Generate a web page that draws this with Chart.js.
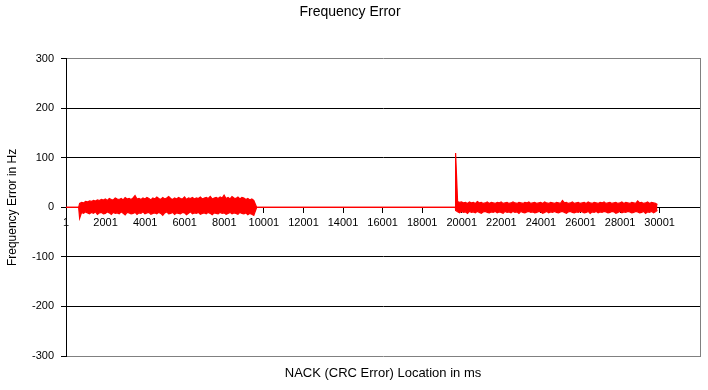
<!DOCTYPE html>
<html>
<head>
<meta charset="utf-8">
<script src="https://cdn.jsdelivr.net/npm/chart.js@4.4.1/dist/chart.umd.min.js"></script>
<style>
html,body{margin:0;padding:0;background:#fff;}
#wrap{width:708px;height:390px;position:relative;}
</style>
</head>
<body>
<div id="wrap"><canvas id="c"></canvas></div>
<script>
// ---- data ----
const chartTitle = 'Frequency Error';
const xTitle = 'NACK (CRC Error) Location in ms';
const yTitle = 'Frequency Error in Hz';
const xTickValues = [1,2001,4001,6001,8001,10001,12001,14001,16001,18001,20001,22001,24001,26001,28001,30001];
const yTickValues = [-300,-200,-100,0,100,200,300];
const xMin = 1, xMax = 32040;
const sampleStep = 100;          // ms between envelope samples (upper/lower extent of the dense trace)
// zero-valued stretches (start,end in ms)
const zeroStretches = [[1,640],[9640,19680]];
// segment 1: burst from 690 ms
const seg1Start = 690;
const seg1Hi = [8,10,9,12,11,13,12,14,13,15,
14,16,15,17,14,18,16,15,19,17,
16,18,15,20,17,18,16,19,24,17,
18,16,19,17,20,18,15,19,17,21,
18,16,20,17,19,22,18,16,19,17,
20,18,17,21,16,19,18,20,17,19,
18,21,17,19,20,18,22,17,19,20,
18,21,19,25,18,20,17,22,19,18,
21,17,20,19,16,18,15,17,14];
const seg1Lo = [-22,-10,-12,-9,-11,-13,-10,-12,-9,-14,
-11,-10,-13,-12,-9,-11,-14,-10,-12,-11,
-13,-9,-12,-15,-10,-11,-13,-12,-10,-14,
-11,-12,-9,-13,-11,-10,-14,-12,-11,-13,
-10,-12,-16,-11,-9,-13,-12,-10,-14,-11,
-12,-13,-10,-11,-15,-12,-9,-13,-11,-12,
-10,-14,-12,-11,-13,-10,-12,-15,-11,-12,
-13,-10,-12,-11,-14,-12,-10,-13,-11,-12,
-14,-10,-12,-13,-11,-15,-12,-14,-16];
// segment 2: burst from 19690 ms
const seg2Start = 19690;
const seg2Hi = [110,12,10,11,9,10,8,11,9,10,
8,12,9,10,8,9,11,8,10,9,
8,10,9,11,8,9,10,8,9,11,
9,8,10,9,8,10,9,11,8,9,
10,8,9,10,8,11,9,8,10,9,
8,10,9,8,14,9,10,8,9,11,
8,9,10,8,9,10,8,11,9,8,
10,9,8,10,9,11,8,9,10,8,
9,10,8,9,11,8,10,9,8,10,
9,8,13,9,10,8,9,11,8,10,
9,8,6];
const seg2Lo = [-6,-9,-11,-8,-10,-9,-12,-8,-10,-9,
-11,-8,-10,-12,-9,-8,-10,-11,-9,-10,
-8,-11,-9,-10,-12,-8,-10,-9,-11,-8,
-10,-9,-12,-8,-10,-11,-9,-8,-10,-9,
-11,-10,-8,-9,-12,-10,-8,-11,-9,-10,
-8,-10,-11,-9,-8,-10,-12,-9,-8,-10,
-11,-9,-10,-8,-9,-11,-10,-8,-12,-9,
-10,-8,-11,-9,-10,-8,-9,-11,-10,-8,
-9,-12,-10,-8,-11,-9,-10,-8,-9,-11,
-10,-8,-9,-11,-10,-8,-12,-9,-10,-8,
-11,-9,-6];

// ---- build the envelope tables ----
function envelope(which){
  const pts = [];
  const add = (start, arr) => arr.forEach((v,i) => pts.push({x: start + i*sampleStep, y: v}));
  pts.push({x: zeroStretches[0][0], y: 0}, {x: zeroStretches[0][1], y: 0});
  add(seg1Start, which === 'hi' ? seg1Hi : seg1Lo);
  pts.push({x: zeroStretches[1][0], y: 0}, {x: zeroStretches[1][1], y: 0});
  add(seg2Start, which === 'hi' ? seg2Hi : seg2Lo);
  return pts;
}
const upper = envelope('hi');
const lower = envelope('lo');

const FONT = "'Liberation Sans', Arial, sans-serif";
Chart.defaults.font.family = FONT;
Chart.defaults.color = '#000';

new Chart(document.getElementById('c'), {
  type: 'line',
  data: {
    datasets: [{
      data: upper,
      borderColor: '#FF0000', borderWidth: 1.2,
      pointRadius: 0, tension: 0, fill: false
    }, {
      data: lower,
      borderColor: '#FF0000', borderWidth: 1.2,
      backgroundColor: '#FF0000',
      pointRadius: 0, tension: 0, fill: '-1'
    }]
  },
  options: {
    responsive: true,
    maintainAspectRatio: false,
    animation: false,
    events: [],
    layout: { padding: { left: 0, right: 8, top: 0, bottom: 0 } },
    plugins: {
      legend: { display: false },
      tooltip: { enabled: false },
      filler: { propagate: false },
      title: {
        display: true, text: chartTitle, color: '#000',
        font: { size: 14, weight: 'normal', family: FONT },
        padding: { top: 4, bottom: 38 }
      }
    },
    scales: {
      x: {
        type: 'linear',
        min: xMin, max: xMax,
        position: { y: 0 },
        afterBuildTicks: (s) => { s.ticks = xTickValues.map(v => ({value: v})); },
        ticks: {
          autoSkip: false, maxRotation: 0, color: '#000',
          font: { size: 11, family: FONT }, padding: 4,
          callback: (v) => String(v)
        },
        grid: { drawOnChartArea: false, drawTicks: true, tickLength: 5, color: '#000', tickColor: '#000' },
        border: { display: true, color: '#000', width: 1 }
      },
      x2: {
        type: 'linear', position: 'bottom',
        min: xMin, max: xMax,
        afterFit: (s) => { s.height = 34; },
        ticks: { display: false },
        grid: { display: false, drawTicks: false },
        border: { display: false },
        title: {
          display: true, text: xTitle, color: '#000',
          font: { size: 13, family: FONT }, padding: { top: 0, bottom: 9 }
        }
      },
      y: {
        type: 'linear', position: 'left',
        min: -300, max: 300,
        afterBuildTicks: (s) => { s.ticks = yTickValues.map(v => ({value: v})); },
        afterFit: (s) => { s.width = 66; },
        ticks: { color: '#000', font: { size: 11, family: FONT }, padding: 7 },
        grid: {
          color: (ctx) => (ctx.tick && Math.abs(ctx.tick.value) === 300) ? '#808080' : '#000',
          tickColor: '#000', tickLength: 5, lineWidth: 1
        },
        border: { display: true, color: '#000', width: 1 },
        title: {
          display: true, text: yTitle, color: '#000',
          font: { size: 12, family: FONT }, padding: { top: 5, bottom: 0 }
        }
      },
      y2: {
        type: 'linear', position: 'right',
        min: -300, max: 300,
        afterFit: (s) => { s.width = 0; },
        ticks: { display: false },
        grid: { drawOnChartArea: false, drawTicks: false },
        border: { display: true, color: '#808080', width: 1 }
      }
    }
  }
});
</script>
</body>
</html>
